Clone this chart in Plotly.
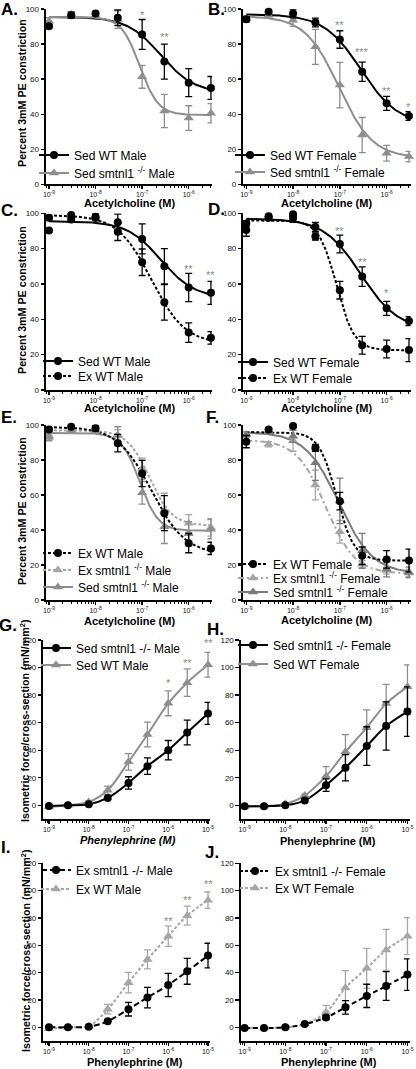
import numpy as np
import plotly.graph_objects as go

W, H = 416, 1069

# ---------------- data ----------------
ach_conc = [1e-9, 3e-9, 1e-8, 3e-8, 1e-7, 3e-7, 1e-6, 3e-6]
pe_conc = [1e-9, 3e-9, 1e-8, 3e-8, 1e-7, 3e-7, 1e-6, 3e-6, 1e-5]

# Acetylcholine relaxation, % of 3mM PE constriction (mean, SEM)
sed_wt_male = [90.2, 96.5, 97.4, 95.0, 85.5, 70.0, 58.0, 55.0]
sed_wt_male_err = [1.0, 1.5, 1.0, 4.5, 8.5, 10.0, 8.0, 6.5]
sed_ko_male = [93.0, 97.0, 96.5, 94.0, 61.3, 41.8, 37.8, 40.5]
sed_ko_male_err = [2.0, 1.5, 1.0, 5.0, 6.5, 9.5, 7.0, 5.5]
sed_wt_female = [94.2, 98.4, 97.4, 92.3, 82.6, 64.2, 46.2, 39.0]
sed_wt_female_err = [1.5, 1.0, 2.5, 2.5, 5.0, 5.5, 4.0, 2.5]
sed_ko_female = [94.6, 96.5, 93.6, 78.4, 56.6, 28.1, 17.7, 15.8]
sed_ko_female_err = [1.5, 1.0, 3.5, 10.0, 13.0, 10.0, 4.5, 3.0]
ex_wt_male = [97.5, 99.0, 98.1, 89.6, 72.3, 49.6, 32.5, 29.5]
ex_wt_male_err = [1.0, 1.0, 1.5, 5.0, 7.5, 10.0, 5.5, 3.5]
ex_wt_female = [90.5, 97.5, 99.5, 86.9, 56.5, 25.3, 23.2, 22.6]
ex_wt_female_err = [3.5, 1.0, 1.0, 2.0, 5.0, 5.0, 5.0, 6.5]
ex_ko_male = [94.0, 97.0, 97.0, 94.3, 75.0, 51.0, 43.8, 41.5]
ex_ko_male_err = [2.0, 1.5, 1.5, 3.0, 6.0, 10.0, 5.0, 5.0]
ex_ko_female = [91.5, 89.0, 91.0, 65.7, 39.0, 20.5, 16.8, 15.5]
ex_ko_female_err = [2.0, 1.5, 6.0, 8.5, 6.5, 2.0, 2.0, 2.0]

# nonlinear-fit parameters: [top, bottom, logEC50, hill slope]
fit_sed_wt_male = [95.5, 52.0, -6.60, 1.2]
fit_sed_ko_male = [95.5, 39.5, -7.05, 2.2]
fit_sed_wt_female = [97.0, 34.0, -6.55, 1.1]
fit_sed_ko_female = [96.0, 15.0, -7.02, 1.2]
fit_ex_wt_male = [99.0, 26.0, -6.80, 1.2]
fit_ex_wt_female = [96.0, 22.5, -7.07, 2.3]
fit_ex_ko_male = [97.0, 42.5, -6.84, 1.8]
fit_ex_ko_female = [91.5, 15.0, -7.30, 1.4]

# Phenylephrine isometric force / cross-section (mN/mm2)
g_sed_ko_male = [-0.5, 0.0, 0.7, 5.3, 16.2, 28.4, 40.0, 52.8, 66.7]
g_sed_ko_male_err = [0.5, 0.5, 0.5, 1.0, 4.5, 6.0, 7.0, 9.0, 8.0]
g_sed_wt_male = [-1.2, 0.0, 2.4, 10.9, 31.5, 51.4, 74.0, 89.0, 102.0]
g_sed_wt_male_err = [0.5, 0.5, 1.0, 3.0, 6.0, 9.0, 9.0, 10.0, 9.0]
h_sed_ko_female = [-0.7, -0.7, 0.0, 3.4, 14.6, 27.2, 43.0, 57.5, 68.0]
h_sed_ko_female_err = [0.5, 0.5, 0.5, 1.0, 4.5, 9.5, 14.0, 17.5, 18.0]
h_sed_wt_female = [-1.0, -0.5, 1.0, 7.0, 21.1, 38.8, 56.3, 73.8, 86.0]
h_sed_wt_female_err = [0.5, 0.5, 0.5, 1.0, 7.0, 12.5, 13.0, 14.0, 16.0]
i_ex_ko_male = [0.0, 0.0, 0.5, 4.4, 13.3, 21.8, 31.0, 41.0, 52.5]
i_ex_ko_male_err = [0.5, 0.5, 0.5, 1.0, 5.0, 7.5, 8.5, 9.5, 9.0]
i_ex_wt_male = [-1.0, 0.0, 1.0, 13.3, 32.7, 49.7, 66.7, 81.7, 93.0]
i_ex_wt_male_err = [0.5, 0.5, 0.5, 3.5, 7.5, 7.0, 7.5, 7.0, 6.0]
j_ex_ko_female = [-0.5, -0.5, 0.0, 2.4, 7.2, 14.6, 23.0, 30.2, 38.6]
j_ex_ko_female_err = [0.5, 0.5, 0.5, 1.0, 1.5, 5.0, 8.5, 10.5, 11.5]
j_ex_wt_female = [-0.5, -0.5, 0.0, 2.4, 11.0, 29.0, 43.2, 56.6, 66.7]
j_ex_wt_female_err = [0.5, 0.5, 0.5, 1.0, 5.0, 12.5, 14.5, 15.0, 13.5]

ach_ticks = [1e-9, 1e-8, 1e-7, 1e-6]
ach_ticktext = ["10<sup>-9</sup>", "10<sup>-8</sup>", "10<sup>-7</sup>", "10<sup>-6</sup>"]
pe_ticks = [1e-9, 1e-8, 1e-7, 1e-6, 1e-5]
pe_ticktext = ["10<sup>-9</sup>", "10<sup>-8</sup>", "10<sup>-7</sup>", "10<sup>-6</sup>", "10<sup>-5</sup>"]

# significance markers: (panel, log10 conc, y, text)
stars = [
    ("A", -7.0, 96.5, "*"), ("A", -6.523, 84, "**"),
    ("B", -7.0, 91, "**"), ("B", -6.523, 75.5, "***"), ("B", -6.0, 53.5, "**"), ("B", -5.523, 44, "*"),
    ("C", -6.0, 68.5, "**"), ("C", -5.523, 65, "**"),
    ("D", -7.0, 90, "**"), ("D", -6.523, 72.5, "**"), ("D", -6.0, 55, "*"),
    ("G", -6.0, 88.5, "*"), ("G", -5.523, 103, "**"), ("G", -5.0, 118, "**"),
    ("I", -6.0, 77.5, "**"), ("I", -5.523, 93, "**"), ("I", -5.0, 105, "**"),
]

# ---------------- styling / layout constants ----------------
FONT = "Arial, 'Liberation Sans', sans-serif"
BLACK = "#000000"
GRAY = "#8e8e8e"
LGRAY = "#a6a6a6"
DGRAY = "#7a7a7a"
STAR = "#8a8a8a"
DOT = "3px,2px"
DASHDOT = "6px,3px,2px,3px"
KO = "smtnl1 <sup>-/-</sup>"


def pxx(p):
    return p / W


def pxy(p):
    return 1 - p / H


# panel geometry in pixels: x domain, y domain (top, bottom), x range (log), y range
panels = {
    "A": dict(n=1, xd=(45.7, 212), yd=(9, 184.3), xr=(-9.07, -5.50), yr=(0, 100), kind="ach"),
    "B": dict(n=2, xd=(243, 410.5), yd=(9, 184.3), xr=(-9.07, -5.49), yr=(0, 100), kind="ach"),
    "C": dict(n=3, xd=(45.7, 212), yd=(213.3, 390), xr=(-9.07, -5.50), yr=(0, 100), kind="ach"),
    "D": dict(n=4, xd=(243, 410.5), yd=(213.3, 390), xr=(-9.07, -5.49), yr=(0, 100), kind="ach"),
    "E": dict(n=5, xd=(45.7, 212), yd=(425, 600), xr=(-9.07, -5.50), yr=(0, 100), kind="ach"),
    "F": dict(n=6, xd=(243, 410.5), yd=(425, 600), xr=(-9.07, -5.49), yr=(0, 100), kind="ach"),
    "G": dict(n=7, xd=(43, 210), yd=(640, 819), xr=(-9.15, -4.95), yr=(-10, 120), kind="pe"),
    "H": dict(n=8, xd=(240.5, 409.5), yd=(640, 819), xr=(-9.10, -4.95), yr=(-10, 120), kind="pe"),
    "I": dict(n=9, xd=(43, 210), yd=(863.3, 1041), xr=(-9.15, -4.95), yr=(-10, 120), kind="pe"),
    "J": dict(n=10, xd=(240.5, 409.5), yd=(863.3, 1041), xr=(-9.10, -4.95), yr=(-10, 120), kind="pe"),
}

# legend entry anchor: (text-left x, item centre y) in pixels
legend_pos = {
    "A": (74, [155, 173]), "B": (270, [155, 172]),
    "C": (78, [361, 376]), "D": (273, [362, 378]),
    "E": (78, [553, 570, 587]), "F": (273, [564, 578, 592]),
    "G": (76, [648, 665]), "H": (273, [645, 664]),
    "I": (76, [870, 889]), "J": (275, [871, 888]),
}

fig = go.Figure()
legend_layouts = {}
legend_counter = [0]


def axname(n, a):
    return a if n == 1 else f"{a}{n}"


def add_points(p, x, y, err, color, symbol, size=8):
    n = panels[p]["n"]
    fig.add_trace(go.Scatter(
        x=x, y=y, mode="markers", showlegend=False, cliponaxis=False,
        marker=dict(color=color, symbol=symbol, size=size, line=dict(width=0)),
        error_y=dict(type="data", array=err, visible=True, color=color, thickness=1.3, width=3.5),
        xaxis=axname(n, "x"), yaxis=axname(n, "y")))


def add_fit(p, params, color, dash):
    n = panels[p]["n"]
    top, bottom, logec50, hill = params
    lx = np.linspace(np.log10(ach_conc[0]), np.log10(ach_conc[-1]), 200)
    yy = bottom + (top - bottom) / (1 + 10 ** ((lx - logec50) * hill))
    fig.add_trace(go.Scatter(
        x=10 ** lx, y=yy, mode="lines", showlegend=False, cliponaxis=False,
        line=dict(color=color, width=2, dash=dash),
        xaxis=axname(n, "x"), yaxis=axname(n, "y")))


def add_spline(p, x, y, color, dash):
    n = panels[p]["n"]
    fig.add_trace(go.Scatter(
        x=x, y=y, mode="lines", showlegend=False, cliponaxis=False,
        line=dict(color=color, width=2, dash=dash, shape="spline", smoothing=1),
        xaxis=axname(n, "x"), yaxis=axname(n, "y")))


def add_legend_entries(p, entries):
    n = panels[p]["n"]
    tx, ys = legend_pos[p]
    for (name, color, symbol, dash, size), cy in zip(entries, ys):
        legend_counter[0] += 1
        k = legend_counter[0]
        lname = "legend" if k == 1 else f"legend{k}"
        fig.add_trace(go.Scatter(
            x=[None], y=[None], mode="lines+markers", name=name, showlegend=True,
            legend=lname,
            marker=dict(color=color, symbol=symbol, size=size),
            line=dict(color=color, width=2, dash=dash),
            xaxis=axname(n, "x"), yaxis=axname(n, "y")))
        legend_layouts[lname] = dict(
            x=pxx(tx - 40), y=pxy(cy - 14.5), xanchor="left", yanchor="top",
            bgcolor="rgba(0,0,0,0)", borderwidth=0, itemwidth=30,
            font=dict(size=12, family=FONT, color=BLACK),
        )


# Panel A
add_fit("A", fit_sed_wt_male, BLACK, "solid")
add_fit("A", fit_sed_ko_male, GRAY, "solid")
add_points("A", ach_conc, sed_ko_male, sed_ko_male_err, GRAY, "triangle-up", 9)
add_points("A", ach_conc, sed_wt_male, sed_wt_male_err, BLACK, "circle")
add_legend_entries("A", [("Sed WT Male", BLACK, "circle", "solid", 8),
                         (f"Sed {KO} Male", GRAY, "triangle-up", "solid", 9)])

# Panel B
add_fit("B", fit_sed_wt_female, BLACK, "solid")
add_fit("B", fit_sed_ko_female, GRAY, "solid")
add_points("B", ach_conc, sed_ko_female, sed_ko_female_err, GRAY, "triangle-up", 9)
add_points("B", ach_conc, sed_wt_female, sed_wt_female_err, BLACK, "circle")
add_legend_entries("B", [("Sed WT Female", BLACK, "circle", "solid", 8),
                         (f"Sed {KO} Female", GRAY, "triangle-up", "solid", 9)])

# Panel C
add_fit("C", fit_sed_wt_male, BLACK, "solid")
add_fit("C", fit_ex_wt_male, BLACK, DOT)
add_points("C", ach_conc, sed_wt_male, sed_wt_male_err, BLACK, "circle")
add_points("C", ach_conc, ex_wt_male, ex_wt_male_err, BLACK, "circle")
add_legend_entries("C", [("Sed WT Male", BLACK, "circle", "solid", 8),
                         ("Ex WT Male", BLACK, "circle", DOT, 8)])

# Panel D
add_fit("D", fit_sed_wt_female, BLACK, "solid")
add_fit("D", fit_ex_wt_female, BLACK, DOT)
add_points("D", ach_conc, sed_wt_female, sed_wt_female_err, BLACK, "circle")
add_points("D", ach_conc, ex_wt_female, ex_wt_female_err, BLACK, "circle")
add_legend_entries("D", [("Sed WT Female", BLACK, "circle", "solid", 8),
                         ("Ex WT Female", BLACK, "circle", DOT, 8)])

# Panel E
add_fit("E", fit_ex_ko_male, LGRAY, DOT)
add_fit("E", fit_sed_ko_male, GRAY, "solid")
add_fit("E", fit_ex_wt_male, BLACK, DOT)
add_points("E", ach_conc, ex_ko_male, ex_ko_male_err, LGRAY, "triangle-up", 9)
add_points("E", ach_conc, sed_ko_male, sed_ko_male_err, GRAY, "triangle-up", 9)
add_points("E", ach_conc, ex_wt_male, ex_wt_male_err, BLACK, "circle")
add_legend_entries("E", [("Ex WT Male", BLACK, "circle", DOT, 8),
                         (f"Ex {KO} Male", LGRAY, "triangle-up", DOT, 9),
                         (f"Sed {KO} Male", GRAY, "triangle-up", "solid", 9)])

# Panel F
add_fit("F", fit_ex_ko_female, LGRAY, DASHDOT)
add_fit("F", fit_sed_ko_female, DGRAY, "solid")
add_fit("F", fit_ex_wt_female, BLACK, DOT)
add_points("F", ach_conc, ex_ko_female, ex_ko_female_err, LGRAY, "triangle-up", 9)
add_points("F", ach_conc, sed_ko_female, sed_ko_female_err, DGRAY, "triangle-up", 9)
add_points("F", ach_conc, ex_wt_female, ex_wt_female_err, BLACK, "circle")
add_legend_entries("F", [("Ex WT Female", BLACK, "circle", DOT, 8),
                         (f"Ex {KO} Female", LGRAY, "triangle-up", DASHDOT, 9),
                         (f"Sed {KO} Female", DGRAY, "triangle-up", "solid", 9)])

# Panel G
add_spline("G", pe_conc, g_sed_wt_male, GRAY, "solid")
add_spline("G", pe_conc, g_sed_ko_male, BLACK, "solid")
add_points("G", pe_conc, g_sed_wt_male, g_sed_wt_male_err, GRAY, "triangle-up", 9)
add_points("G", pe_conc, g_sed_ko_male, g_sed_ko_male_err, BLACK, "circle")
add_legend_entries("G", [("Sed smtnl1 -/- Male", BLACK, "circle", "solid", 8),
                         ("Sed WT Male", GRAY, "triangle-up", "solid", 9)])

# Panel H
add_spline("H", pe_conc, h_sed_wt_female, GRAY, "solid")
add_spline("H", pe_conc, h_sed_ko_female, BLACK, "solid")
add_points("H", pe_conc, h_sed_wt_female, h_sed_wt_female_err, GRAY, "triangle-up", 9)
add_points("H", pe_conc, h_sed_ko_female, h_sed_ko_female_err, BLACK, "circle")
add_legend_entries("H", [("Sed smtnl1 -/- Female", BLACK, "circle", "solid", 8),
                         ("Sed WT Female", GRAY, "triangle-up", "solid", 9)])

# Panel I
add_spline("I", pe_conc, i_ex_wt_male, LGRAY, DOT)
add_spline("I", pe_conc, i_ex_ko_male, BLACK, "6px,3px")
add_points("I", pe_conc, i_ex_wt_male, i_ex_wt_male_err, LGRAY, "triangle-up", 9)
add_points("I", pe_conc, i_ex_ko_male, i_ex_ko_male_err, BLACK, "circle")
add_legend_entries("I", [("Ex smtnl1 -/- Male", BLACK, "circle", "6px,3px", 8),
                         ("Ex WT Male", LGRAY, "triangle-up", DOT, 9)])

# Panel J
add_spline("J", pe_conc, j_ex_wt_female, LGRAY, DOT)
add_spline("J", pe_conc, j_ex_ko_female, BLACK, "5px,3px")
add_points("J", pe_conc, j_ex_wt_female, j_ex_wt_female_err, LGRAY, "triangle-up", 9)
add_points("J", pe_conc, j_ex_ko_female, j_ex_ko_female_err, BLACK, "circle")
add_legend_entries("J", [("Ex smtnl1 -/- Female", BLACK, "circle", DOT, 8),
                         ("Ex WT Female", LGRAY, "triangle-up", DOT, 9)])

# ---------------- axes ----------------
layout = dict(
    width=W, height=H, margin=dict(l=0, r=0, t=0, b=0, autoexpand=False),
    paper_bgcolor="white", plot_bgcolor="white",
    font=dict(family=FONT, color=BLACK),
    showlegend=True,
)
layout.update(legend_layouts)

minor_vals = [k * 10.0 ** e for e in range(-10, -4) for k in range(2, 10)]

for p, cfg in panels.items():
    n = cfg["n"]
    xk = "xaxis" if n == 1 else f"xaxis{n}"
    yk = "yaxis" if n == 1 else f"yaxis{n}"
    xa = axname(n, "x")
    ya = axname(n, "y")
    ticks = ach_ticks if cfg["kind"] == "ach" else pe_ticks
    ttext = ach_ticktext if cfg["kind"] == "ach" else pe_ticktext
    layout[xk] = dict(
        type="log", domain=[pxx(cfg["xd"][0]), pxx(cfg["xd"][1])], range=list(cfg["xr"]),
        autorange=False, anchor=ya, showline=True, linecolor=BLACK, linewidth=1.6, mirror=False,
        showgrid=False, zeroline=False, ticks="outside", ticklen=3, tickwidth=1.3,
        tickcolor=BLACK, tickvals=ticks, ticktext=ttext,
        tickfont=dict(size=7, color="#111"),
        minor=dict(ticks="outside", ticklen=2, tickwidth=1, tickcolor=BLACK,
                   tickvals=minor_vals, showgrid=False),
    )
    ytv = list(range(0, 101, 20)) if cfg["kind"] == "ach" else list(range(0, 121, 20))
    layout[yk] = dict(
        domain=[pxy(cfg["yd"][1]), pxy(cfg["yd"][0])], range=list(cfg["yr"]), autorange=False,
        anchor=xa, showline=True, linecolor=BLACK, linewidth=1.6, mirror=False,
        showgrid=False, zeroline=False, ticks="outside", ticklen=3.5, tickwidth=1.3,
        tickcolor=BLACK, tickvals=ytv, tickfont=dict(size=8, color="#111"),
    )

annotations = []
# panel letters
letters = {"A": (9, 9), "B": (216, 9), "C": (9, 211), "D": (216, 210), "E": (9, 417),
           "F": (213, 417), "G": (8, 625), "H": (215, 629), "I": (5, 847), "J": (212, 852)}
for k, (lx, ly) in letters.items():
    annotations.append(dict(text=f"<b>{k}.</b>", x=pxx(lx), y=pxy(ly), xref="paper", yref="paper",
                            showarrow=False, font=dict(size=17, family=FONT, color=BLACK),
                            xanchor="center", yanchor="middle"))

# axis titles
xtitles = {"A": (129, 203, "Acetylcholine (M)", False), "B": (326, 203, "Acetylcholine (M)", False),
           "C": (129, 408, "Acetylcholine (M)", False), "D": (326, 408, "Acetylcholine (M)", False),
           "E": (129, 621, "Acetylcholine (M)", False), "F": (326, 620, "Acetylcholine (M)", False),
           "G": (128, 840, "Phenylephrine (M)", True), "H": (328, 841, "Phenylephrine (M)", False),
           "I": (135, 1062, "Phenylephrine (M)", False), "J": (329, 1062, "Phenylephrine (M)", False)}
for k, (tx, ty, t, it) in xtitles.items():
    txt = f"<b><i>{t}</i></b>" if it else f"<b>{t}</b>"
    annotations.append(dict(text=txt, x=pxx(tx), y=pxy(ty), xref="paper", yref="paper",
                            showarrow=False, font=dict(size=11, family=FONT, color=BLACK),
                            xanchor="center", yanchor="middle"))

ytitles = [(22, 93, "Percent 3mM PE constriction"), (22, 300, "Percent 3mM PE constriction"),
           (22, 511, "Percent 3mM PE constriction"),
           (24, 721, "Isometric force/cross-section (mN/mm<sup>2</sup>)"),
           (25, 951, "Isometric force/cross-section (mN/mm<sup>2</sup>)")]
for tx, ty, t in ytitles:
    annotations.append(dict(text=f"<b>{t}</b>", x=pxx(tx), y=pxy(ty), xref="paper", yref="paper",
                            showarrow=False, textangle=-90, font=dict(size=10.7, family=FONT, color=BLACK),
                            xanchor="center", yanchor="middle"))

for p, lx, yv, t in stars:
    n = panels[p]["n"]
    annotations.append(dict(text=t, x=lx, y=yv, xref=axname(n, "x"), yref=axname(n, "y"),
                            showarrow=False, font=dict(size=11, family=FONT, color=STAR),
                            xanchor="center", yanchor="middle"))

layout["annotations"] = annotations
fig.update_layout(**layout)
fig.write_html(
    "out.html",
    config={"displayModeBar": False, "staticPlot": True},
    post_script="document.body.style.margin='0';document.body.style.overflow='hidden';",
)
